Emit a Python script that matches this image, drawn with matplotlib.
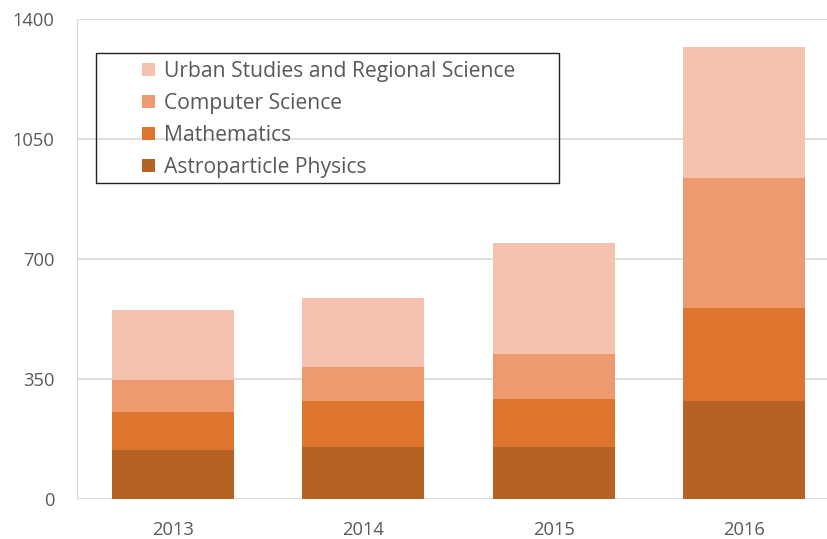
import matplotlib
matplotlib.use("Agg")
import matplotlib.pyplot as plt
from matplotlib.patches import Rectangle
import numpy as np

years = ["2013", "2014", "2015", "2016"]
astro = [144, 152, 152, 288]
math_ = [112, 136, 141, 269]
cs = [92, 98, 131, 381]
urban = [203, 200, 324, 380]

series = ["Astroparticle Physics", "Mathematics", "Computer Science",
          "Urban Studies and Regional Science"]
colors = ["#B76225", "#DD752E", "#EF9970", "#F5C2AF"]

plt.rcParams['font.family'] = ['Open Sans', 'DejaVu Sans']
txt = "#595959"

fig = plt.figure(figsize=(8.28, 5.39), dpi=100)
ax = fig.add_axes([0.0934, 0.0737, 0.9066, 0.8905])

x = np.arange(len(years))
bottom = np.zeros(len(years))
bars = []
for vals, name, c in zip([astro, math_, cs, urban], series, colors):
    b = ax.bar(x, vals, 0.64, bottom=bottom, color=c, label=name, zorder=3)
    bars.append(b)
    bottom += np.array(vals)

ax.set_ylim(0, 1400)
ax.set_xlim(-0.5, 3.44)
ax.set_yticks([0, 350, 700, 1050, 1400])
ax.set_xticks(x)
ax.set_xticklabels(years)
ax.yaxis.grid(True, color="#D9D9D9", linewidth=1.2, zorder=0)
ax.tick_params(length=0, labelsize=13.2, colors=txt)
ax.tick_params(axis="y", pad=16.5)
ax.tick_params(axis="x", pad=16)
for s in ["top", "right", "bottom"]:
    ax.spines[s].set_visible(False)
ax.spines["left"].set_color("#D9D9D9")

# legend box drawn by hand (wide padding like the reference)
fig.patches.append(Rectangle((96 / 828, 1 - 183 / 539), 463 / 828, 130 / 539,
                             transform=fig.transFigure, fill=False,
                             edgecolor="#222222", linewidth=1.0, zorder=5))

leg = fig.legend(handles=bars[::-1], loc="upper left",
                 bbox_to_anchor=(142 / 828, 1 - 61 / 539), fontsize=15.2,
                 frameon=False, handlelength=0.6, handleheight=0.6,
                 handletextpad=0.45, labelspacing=0.52, borderpad=0,
                 borderaxespad=0)
for t in leg.get_texts():
    t.set_color(txt)

fig.savefig("out.png", dpi=100)
